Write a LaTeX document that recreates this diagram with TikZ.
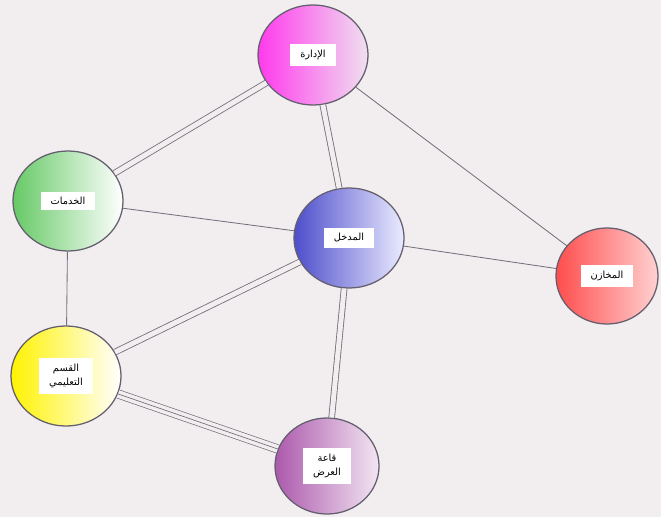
\documentclass[tikz,border=0pt]{standalone}
\usepackage{fontspec}
\newfontfamily\arabicfont[Script=Arabic]{DejaVu Sans}
\TeXXeTstate=1
\usetikzlibrary{shapes.geometric,positioning}

\definecolor{paper}{RGB}{242,238,240}
\definecolor{rim}{RGB}{100,95,110}
\definecolor{linkgray}{RGB}{115,113,125}

\setlength{\fboxsep}{4pt}
\newcommand{\arlabel}[1]{\colorbox{white}{\hspace{3pt}\arabicfont\beginR #1\endR\hspace{3pt}}}
\newcommand{\arlabeltwo}[2]{\colorbox{white}{\begin{tabular}{@{\hspace{3pt}}c@{\hspace{3pt}}}\arabicfont\beginR #1\endR\\[2pt]\arabicfont\beginR #2\endR\end{tabular}}}

\tikzset{
  room/.style={ellipse,draw=rim,line width=0.9pt,minimum width=2.75cm,
    minimum height=2.5cm,inner sep=0pt,font=\scriptsize},
  link/.style={draw=linkgray,line width=0.6pt},
  dbl/.style={draw=linkgray,line width=0.6pt,double=paper,double distance=3.5pt},
  tpl/.style={draw=linkgray,line width=0.5pt,double=paper,double distance=5.5pt}
}

\begin{document}
\begin{tikzpicture}[x=0.025cm,y=-0.025cm]
   \fill[paper] (0,0) rectangle (661,517);
   \useasboundingbox (0,0) rectangle (661,517);

   \node[room,left color=magenta!70!pink,right color=violet!12] (idara) at (313,55)
      {\arlabel{الإدارة}};
   \node[room,left color=green!65!black!60,right color=white] (khadamat) at (68,201)
      {\arlabel{الخدمات}};
   \node[room,left color=blue!55!gray!90,right color=blue!8] (madkhal) at (349,238)
      {\arlabel{المدخل}};
   \node[room,left color=red!70,right color=red!18,minimum width=2.55cm,minimum height=2.4cm] (makhazin) at (607,276)
      {\arlabel{المخازن}};
   \node[room,left color=yellow!90!orange,right color=white] (qism) at (66,376)
      {\arlabeltwo{القسم}{التعليمي}};
   \node[room,left color=violet!65,right color=violet!10,minimum width=2.6cm,minimum height=2.4cm] (qaa) at (327,466)
      {\arlabeltwo{قاعة}{العرض}};

   % links
   \path
    (idara) edge[link] (makhazin)
    (khadamat) edge[link] (madkhal)
               edge[link] (qism)
    (madkhal) edge[link] (makhazin);
   \path
    (idara) edge[dbl] (khadamat)
            edge[dbl] (madkhal)
    (madkhal) edge[dbl] (qism)
              edge[dbl] (qaa);
   \path (qism) edge[tpl] (qaa);
   \path (qism) edge[link,line width=0.5pt] (qaa);
\end{tikzpicture}
\end{document}
